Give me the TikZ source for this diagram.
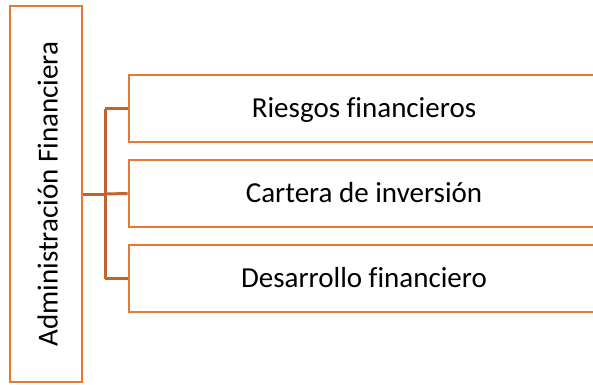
\documentclass[tikz,border=0pt]{standalone}
\usepackage{fontspec}
\setmainfont{Carlito}[Ligatures=NoCommon]
\definecolor{boxor}{HTML}{E57A36}
\definecolor{linkor}{HTML}{C0652C}
\begin{document}
\begin{tikzpicture}[x=1pt,y=-1pt,
  txt/.style={font=\fontsize{29}{34}\selectfont},
  mainbox/.style={draw=boxor,line width=2.6pt,fill=white,minimum width=72pt,minimum height=376pt,inner sep=0pt},
  subbox/.style={draw=boxor,line width=2.6pt,fill=white,minimum width=470pt,minimum height=67pt,inner sep=0pt,txt,text height=18.7pt,text depth=0pt},
  link/.style={draw=linkor,line width=3pt}]
\useasboundingbox (0,0) rectangle (593,384);
\clip (0,0) rectangle (593,384);
\node[mainbox] (main) at (46,194) {};
\node[rotate=90,anchor=base,txt] (maintext) at (57.5,194) {Administración Financiera};
\node[subbox] (r) at (364,108.5) {Riesgos financieros};
\node[subbox] (c) at (364,193.5) {Cartera de inversión};
\node[subbox] (d) at (364,278.5) {Desarrollo financiero};
\coordinate (j) at (105,194);
\draw[link] (main.east) -- (j);
\draw[link] (j |- r.west) -- (j |- d.west);
\draw[link] (j |- r.west) -- (r.west);
\draw[link] (j) -- (c.west);
\draw[link] (j |- d.west) -- (d.west);
\end{tikzpicture}
\end{document}
